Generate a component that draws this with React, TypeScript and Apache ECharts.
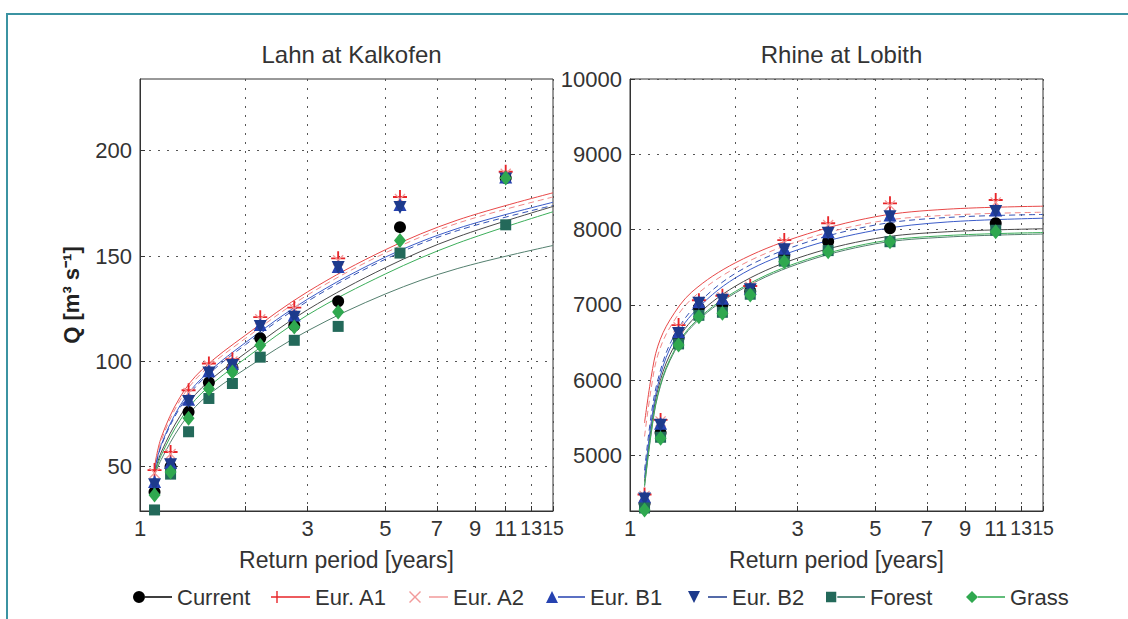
import React, { useEffect, useRef } from "react";
import * as echarts from "echarts";

// ---------- data ----------
const scenarioNames = ["Current", "Eur. A1", "Eur. A2", "Eur. B1", "Eur. B2", "Forest", "Grass"];

// empirical return periods of the annual maxima [years]
const returnPeriods = [1.1, 1.222, 1.375, 1.571, 1.833, 2.2, 2.75, 3.667, 5.5, 11];

// Lahn at Kalkofen, points [m3/s]
const lahnCurrent = [38, 50, 76, 90, 97, 111, 117, 128.5, 163.7, 187];
const lahnA1 = [48.4, 57, 86.3, 99, 101, 121, 125.5, 148.9, 178, 190];
const lahnA2 = [47, 56, 85, 98, 100, 120, 125, 148, 177, 189];
const lahnB1 = [43, 52, 82, 95.5, 99, 117.5, 122, 145, 174.5, 187.5];
const lahnB2 = [41.5, 51, 81, 94.5, 98, 116.5, 121, 144.5, 173, 186.5];
const lahnForest = [29.5, 46.5, 66.6, 82.4, 89.5, 102, 110, 116.6, 151.4, 164.8];
const lahnGrass = [36.6, 47.5, 73, 87, 95, 107.6, 116.3, 123.4, 157.4, 187];

// Lahn fitted distributions
const lahnFitT = [1.1, 1.15, 1.3, 1.5, 2, 3, 5, 8, 15];
const lahnFitCurrent = [47, 57, 74, 87.5, 104, 124.5, 144.5, 159, 173.5];
const lahnFitA1 = [50, 64, 83, 96, 112.5, 133, 153, 167, 180];
const lahnFitA2 = [49, 62.5, 81.5, 94.5, 111, 131.5, 151.5, 165.5, 178];
const lahnFitB1 = [48, 60.5, 79, 92, 109, 129.5, 149.5, 163, 175.5];
const lahnFitB2 = [47.5, 60, 78, 91, 108, 128.5, 148.5, 162, 174];
const lahnFitForest = [46, 53.5, 69, 81.5, 96.5, 114.5, 132, 144, 155];
const lahnFitGrass = [46.5, 55.5, 72, 85, 101.5, 122, 141.5, 156, 171];

// Rhine at Lobith, points [m3/s]
const rhineCurrent = [4360, 5300, 6560, 6960, 7000, 7180, 7650, 7840, 8016, 8083];
const rhineA1 = [4480, 5470, 6730, 7060, 7120, 7250, 7860, 8083, 8348, 8392];
const rhineA2 = [4460, 5450, 6700, 7040, 7100, 7240, 7830, 8060, 8320, 8360];
const rhineB1 = [4450, 5425, 6643, 7041, 7086, 7219, 7750, 7971, 8193, 8259];
const rhineB2 = [4420, 5400, 6620, 7020, 7060, 7200, 7730, 7950, 8170, 8240];
const rhineForest = [4300, 5240, 6480, 6860, 6900, 7140, 7580, 7720, 7838, 7990];
const rhineGrass = [4273, 5226, 6466, 6842, 6887, 7130, 7572, 7705, 7838, 7971];

// Rhine fitted distributions
const rhineFitT = [1.1, 1.15, 1.2, 1.3, 1.5, 2, 3, 5, 8, 15];
const rhineFitCurrent = [4650, 5380, 5870, 6340, 6790, 7250, 7620, 7880, 7970, 8010];
const rhineFitA1 = [5430, 6050, 6450, 6800, 7170, 7560, 7900, 8170, 8270, 8310];
const rhineFitA2 = [5250, 5900, 6330, 6700, 7080, 7490, 7840, 8100, 8190, 8230];
const rhineFitB1 = [4700, 5450, 5930, 6420, 6870, 7360, 7730, 7990, 8100, 8150];
const rhineFitB2 = [4800, 5550, 6000, 6480, 6930, 7420, 7790, 8060, 8160, 8200];
const rhineFitForest = [4580, 5300, 5790, 6260, 6710, 7160, 7540, 7810, 7900, 7940];
const rhineFitGrass = [4600, 5320, 5810, 6280, 6730, 7180, 7560, 7830, 7920, 7960];

// axes
const xTickValues = [1, 2, 3, 5, 7, 9, 11, 13, 15];
const xLabelValues = [1, 3, 5, 7, 9, 11];
const xCrowdedLabelValues = [13, 15]; // each drawn on its own overlay axis
const lahnYTicks = [50, 100, 150, 200];
const rhineYTicks = [5000, 6000, 7000, 8000, 9000, 10000];
const lahnYRange = [29, 234];
const rhineYRange = [4260, 10000];

// ---------- styles ----------
const FONT = "'Liberation Sans', Arial, sans-serif";
const TXT = "#333";
const markerColors = ["#000000", "#e8262a", "#f29a9a", "#2642b0", "#1d3a8c", "#23695a", "#2fa84f"];
const lineColors = ["#4a4a4a", "#e84848", "#f08888", "#3a5bc8", "#3452b4", "#54806f", "#3cae5a"];
const lineTypes: any[] = ["solid", "solid", [6, 4], "solid", [6, 4], "solid", "solid"];
const plusPath = "path://M5.2,0H6.8V5.2H12V6.8H6.8V12H5.2V6.8H0V5.2H5.2Z";
const crossPath = "path://M0,1L1,0L6,5L11,0L12,1L7,6L12,11L11,12L6,7L1,12L0,11L5,6Z";
const markerSymbols = ["circle", plusPath, crossPath, "triangle", "triangle", "rect", "diamond"];
const markerSizes: any[] = [12, 14, 11, 13, 13, 11, [12, 15]];
const markerRotate = [0, 0, 0, 0, 180, 0, 0];

const LINE = "M12,5.3H39V6.7H12Z";
const legendIcons = [
  "path://M0,6A6,6 0 1,0 12,6A6,6 0 1,0 0,6Z" + LINE,
  "path://M5.3,0H6.7V5.3H12V6.7H6.7V12H5.3V6.7H0V5.3H5.3Z" + LINE,
  "path://M0,1L1,0L6,5L11,0L12,1L7,6L12,11L11,12L6,7L1,12L0,11L5,6Z M20,5.3H39V6.7H20Z",
  "path://M6,0L12,12H0Z" + LINE,
  "path://M0,0H12L6,12Z M20,5.3H39V6.7H20Z",
  "path://M1,1H11V11H1Z" + LINE,
  "path://M6,0L12,6L6,12L0,6Z" + LINE,
];
const legendLefts = [133, 271, 409, 546, 688, 826, 966];

const lg = (t: number) => Math.log10(t);
const fmtT = (v: number) => String(Math.round(Math.pow(10, v)));

const labelStyle = { fontSize: 22, color: TXT, fontFamily: FONT };
const gridLine = { show: true, lineStyle: { color: "#555", type: [2, 7], width: 1 } };

function makeX(gridIndex: number) {
  return {
    type: "value",
    gridIndex,
    min: 0,
    max: lg(15),
    name: "Return period [years]",
    nameLocation: "middle",
    nameGap: 37,
    nameTextStyle: { fontSize: 23, color: TXT, fontFamily: FONT },
    axisLine: { show: true, lineStyle: { color: "#333", width: 1 } },
    axisTick: { show: true, inside: true, length: 5, customValues: xTickValues.map(lg), lineStyle: { color: "#333" } },
    axisLabel: {
      show: true,
      margin: 6,
      showMinLabel: true,
      hideOverlap: false,
      customValues: xLabelValues.map(lg),
      formatter: fmtT,
      ...labelStyle,
    },
    splitLine: gridLine,
  };
}

// overlay axis carrying a single crowded label (13 or 15)
function makeXSingle(gridIndex: number, value: number) {
  return {
    type: "value",
    gridIndex,
    min: 0,
    max: lg(15),
    position: "bottom",
    axisLine: { show: false },
    axisTick: { show: false },
    splitLine: { show: false },
    axisLabel: {
      show: true,
      margin: 7,
      showMinLabel: true,
      showMaxLabel: true,
      customValues: [lg(value)],
      formatter: fmtT,
      fontSize: 19.5,
      color: TXT,
      fontFamily: FONT,
    },
  };
}

function makeY(gridIndex: number, range: number[], ticks: number[], name: string) {
  return {
    type: "value",
    gridIndex,
    min: range[0],
    max: range[1],
    name,
    nameLocation: "middle",
    nameRotate: 90,
    nameGap: 58,
    nameTextStyle: { fontSize: 22, color: "#222", fontFamily: FONT, fontWeight: "bold" },
    axisLine: { show: true, lineStyle: { color: "#333", width: 1 } },
    axisTick: { show: true, inside: true, length: 5, customValues: ticks, lineStyle: { color: "#333" } },
    axisLabel: {
      show: true,
      margin: 8,
      showMinLabel: true,
      showMaxLabel: true,
      customValues: ticks,
      formatter: (v: number) => String(v),
      ...labelStyle,
    },
    splitLine: gridLine,
  };
}

const lahnPts = [lahnCurrent, lahnA1, lahnA2, lahnB1, lahnB2, lahnForest, lahnGrass];
const lahnFits = [lahnFitCurrent, lahnFitA1, lahnFitA2, lahnFitB1, lahnFitB2, lahnFitForest, lahnFitGrass];
const rhinePts = [rhineCurrent, rhineA1, rhineA2, rhineB1, rhineB2, rhineForest, rhineGrass];
const rhineFits = [rhineFitCurrent, rhineFitA1, rhineFitA2, rhineFitB1, rhineFitB2, rhineFitForest, rhineFitGrass];

function buildSeries() {
  const lines: any[] = [];
  const points: any[] = [];
  const panels = [
    { idx: 0, pts: lahnPts, fits: lahnFits, fitT: lahnFitT },
    { idx: 1, pts: rhinePts, fits: rhineFits, fitT: rhineFitT },
  ];
  panels.forEach((p) => {
    scenarioNames.forEach((name, i) => {
      lines.push({
        type: "line",
        name,
        xAxisIndex: p.idx,
        yAxisIndex: p.idx,
        data: p.fitT.map((t, k) => [lg(t), p.fits[i][k]]),
        showSymbol: false,
        symbol: "none",
        smooth: 0.35,
        silent: true,
        lineStyle: { color: lineColors[i], width: 1, type: lineTypes[i] },
        itemStyle: { color: markerColors[i] },
        z: 2,
      });
      points.push({
        type: "scatter",
        name,
        xAxisIndex: p.idx,
        yAxisIndex: p.idx,
        data: returnPeriods.map((t, k) => [lg(t), p.pts[i][k]]),
        symbol: markerSymbols[i],
        symbolSize: markerSizes[i],
        symbolRotate: markerRotate[i],
        clip: false,
        silent: true,
        itemStyle: { color: markerColors[i], opacity: 1 },
        z: 3,
      });
    });
  });
  return [...lines, ...points];
}

const option: any = {
  animation: false,
  backgroundColor: "#ffffff",
  textStyle: { fontFamily: FONT },
  graphic: [
    {
      type: "rect",
      shape: { x: 7, y: 14, width: 1400, height: 900 },
      style: { fill: "none", stroke: "#3b93a2", lineWidth: 2 },
      silent: true,
      z: 0,
    },
  ],
  title: [
    { text: "Lahn at Kalkofen", left: 346.5, top: 37, textAlign: "center", textStyle: { fontSize: 24, fontWeight: "normal", color: TXT, fontFamily: FONT } },
    { text: "Rhine at Lobith", left: 836.5, top: 37, textAlign: "center", textStyle: { fontSize: 24, fontWeight: "normal", color: TXT, fontFamily: FONT } },
  ],
  grid: [
    { left: 140, top: 79, width: 413, height: 432, show: true, borderColor: "#333", borderWidth: 1, backgroundColor: "#fff" },
    { left: 630, top: 79, width: 413, height: 432, show: true, borderColor: "#333", borderWidth: 1, backgroundColor: "#fff" },
  ],
  xAxis: [
    makeX(0),
    makeX(1),
    makeXSingle(0, xCrowdedLabelValues[0]),
    makeXSingle(0, xCrowdedLabelValues[1]),
    makeXSingle(1, xCrowdedLabelValues[0]),
    makeXSingle(1, xCrowdedLabelValues[1]),
  ],
  yAxis: [makeY(0, lahnYRange, lahnYTicks, "Q [m³ s⁻¹]"), makeY(1, rhineYRange, rhineYTicks, "")],
  legend: scenarioNames.map((n, i) => ({
    left: legendLefts[i],
    top: 586,
    padding: 0,
    itemWidth: 39,
    itemHeight: 12,
    selectedMode: false,
    textStyle: { fontSize: 22, color: TXT, fontFamily: FONT },
    data: [{ name: n, icon: legendIcons[i], itemStyle: { color: markerColors[i] } }],
  })),
  series: buildSeries(),
};

export default function App() {
  const ref = useRef<HTMLDivElement>(null);
  useEffect(() => {
    document.body.style.margin = "0";
    const chart = echarts.init(ref.current!, null, { renderer: "svg" });
    chart.setOption(option);
    return () => chart.dispose();
  }, []);
  return <div ref={ref} style={{ width: 1128, height: 619 }} />;
}
